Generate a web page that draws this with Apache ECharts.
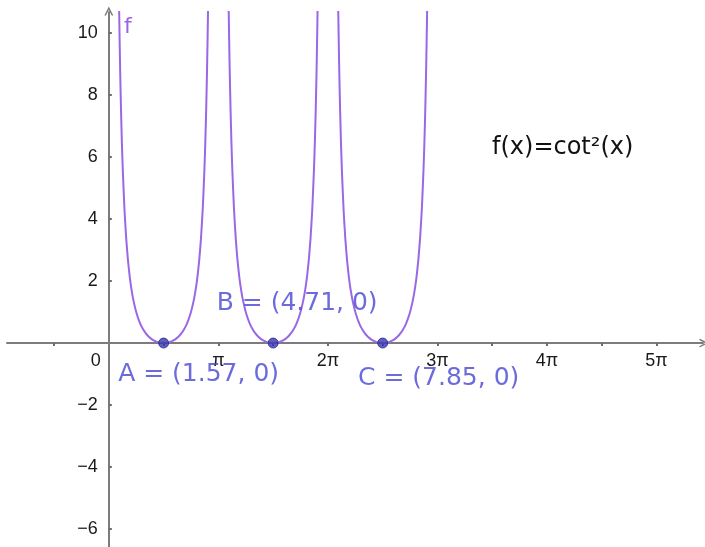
<!DOCTYPE html>
<html>
<head>
<meta charset="utf-8">
<script src="https://cdn.jsdelivr.net/npm/echarts@6/dist/echarts.min.js"></script>
<style>
  html, body { margin: 0; padding: 0; background: #fff; }
  #chart { width: 705px; height: 547px; }
</style>
</head>
<body>
<div id="chart"></div>
<script>
// One branch of f(x) = cot²(x) on (0, π): sample positions t and values cot²(t)
const branchT = [0.20, 0.25, 0.275, 0.30, 0.325, 0.35, 0.375, 0.40, 0.45, 0.50, 0.55, 0.60, 0.65, 0.70,
  0.80, 0.90, 1.00, 1.10, 1.20, 1.30, 1.40, 1.50, 1.5708,
  1.64159, 1.74159, 1.84159, 1.94159, 2.04159, 2.14159, 2.24159, 2.34159, 2.44159, 2.49159, 2.54159,
  2.59159, 2.64159, 2.69159, 2.74159, 2.76659, 2.79159, 2.81659, 2.84159, 2.86659, 2.89159, 2.94159];
const branchY = [24.34, 15.34, 12.56, 10.45, 8.808, 7.505, 6.454, 5.594, 4.286, 3.351, 2.660, 2.137, 1.730, 1.410,
  0.9433, 0.6297, 0.4123, 0.2591, 0.1512, 0.0771, 0.0298, 0.0050, 0,
  0.0050, 0.0298, 0.0771, 0.1512, 0.2591, 0.4123, 0.6297, 0.9433, 1.410, 1.730, 2.137,
  2.660, 3.351, 4.286, 5.594, 6.454, 7.505, 8.808, 10.45, 12.56, 15.34, 24.34];
// The function is drawn on three periods: (0, π), (π, 2π), (2π, 3π)
const branchStarts = [0, Math.PI, 2 * Math.PI];

// Zeros of f
const pointNames = ['A', 'B', 'C'];
const pointX = [1.5708, 4.7124, 7.854];
const pointY = [0, 0, 0];

// Axis ticks and labels
const xTickMultiples = [-0.5, 0.5, 1, 1.5, 2, 2.5, 3, 3.5, 4, 4.5, 5];
const xLabelMultiples = [0, 1, 2, 3, 4, 5];
const xTickLabels = ['0', 'π', '2π', '3π', '4π', '5π'];
const yTickValues = [-6, -4, -2, 2, 4, 6, 8, 10];

const curveColor = '#9a68e6';
const pointColor = '#3636ac';
const labelColor = '#4646d2';
const axisColor = '#7c7c7c';
const tickFont = 'Liberation Sans, Arial, sans-serif';
// open chevron used as the arrow head at the end of each axis
const arrowPath = 'path://M0,10 L5,0 L10,10 L8.2,10 L5,3.6 L1.8,10 Z';

const chart = echarts.init(document.getElementById('chart'), null, { renderer: 'canvas' });

const curveSeries = branchStarts.map((start, k) => ({
  type: 'line',
  name: k === 0 ? 'f' : 'f' + k,
  data: branchT.map((t, i) => [start + t, branchY[i]]),
  showSymbol: false,
  smooth: 0.2,
  clip: true,
  lineStyle: { color: curveColor, width: 2 },
  z: 3
}));

// label offsets for A, B, C relative to each point
const labelOffsets = [[35, 31], [24, -40], [56, 35]];

const axisLineStyle = {
  onZero: false,
  lineStyle: { color: axisColor, width: 2 },
  symbol: ['none', arrowPath],
  symbolSize: [12, 9],
  symbolOffset: [0, 1]
};

const option = {
  backgroundColor: '#fff',
  animation: false,
  grid: { left: 7, right: 2, top: 12, bottom: 0, containLabel: false, outerBoundsMode: 'none' },
  xAxis: {
    type: 'value',
    position: 'bottom',
    min: -2.92,
    max: 17.04,
    splitLine: { show: false },
    axisLine: axisLineStyle,
    axisTick: {
      show: true,
      customValues: xTickMultiples.map(m => m * Math.PI),
      length: 3,
      lineStyle: { color: '#6c6c6c', width: 2 }
    },
    axisLabel: {
      customValues: xLabelMultiples.map(m => m * Math.PI),
      margin: 9,
      color: '#1a1a1a',
      fontFamily: tickFont,
      fontSize: 18,
      formatter: function (val) {
        const idx = xLabelMultiples.indexOf(Math.round(val / Math.PI));
        const txt = idx >= 0 ? xTickLabels[idx] : '';
        return idx === 0 ? '{z|' + txt + '}' : txt;
      },
      rich: {
        z: { padding: [0, 26, 0, 0], fontSize: 18, color: '#1a1a1a', fontFamily: tickFont }
      }
    }
  },
  yAxis: {
    type: 'value',
    position: 'left',
    min: -6.58,
    max: 10.68,
    splitLine: { show: false },
    axisLine: axisLineStyle,
    axisTick: {
      show: true,
      customValues: yTickValues,
      length: 3,
      inside: true,
      lineStyle: { color: '#6c6c6c', width: 2 }
    },
    axisLabel: {
      customValues: yTickValues,
      margin: 11,
      color: '#1a1a1a',
      fontFamily: tickFont,
      fontSize: 18,
      formatter: v => String(v).replace('-', '\u2212')
    }
  },
  graphic: [
    {
      type: 'text',
      left: 124, top: 16,
      style: { text: 'f', fill: curveColor, font: '22px "DejaVu Sans", sans-serif' }
    },
    {
      type: 'text',
      left: 492, top: 136,
      style: { text: 'f(x)=cot²(x)', fill: '#111', font: '24px "DejaVu Sans", sans-serif' }
    }
  ],
  series: curveSeries.concat([{
    type: 'scatter',
    name: 'zeros',
    symbol: 'circle',
    symbolSize: 10,
    itemStyle: { color: pointColor, borderColor: '#26268c', borderWidth: 1 },
    z: 5,
    data: pointNames.map((n, i) => ({
      name: n,
      value: [pointX[i], pointY[i]],
      label: { offset: labelOffsets[i] }
    })),
    label: {
      show: true,
      position: 'inside',
      color: labelColor,
      fontFamily: '"DejaVu Sans", sans-serif',
      fontSize: 25,
      formatter: function (p) {
        return p.name + ' = (' + p.value[0].toFixed(2) + ', ' + p.value[1] + ')';
      }
    }
  }])
};

chart.setOption(option);

// Move both axes (line, ticks, labels) so they cross at the origin.
const grid = chart.getModel().getComponent('grid', 0).coordinateSystem.getRect();
const origin = chart.convertToPixel({ gridIndex: 0 }, [0, 0]);
chart.setOption({
  xAxis: { offset: origin[1] - (grid.y + grid.height) },
  yAxis: { offset: grid.x - origin[0] }
});
</script>
</body>
</html>
